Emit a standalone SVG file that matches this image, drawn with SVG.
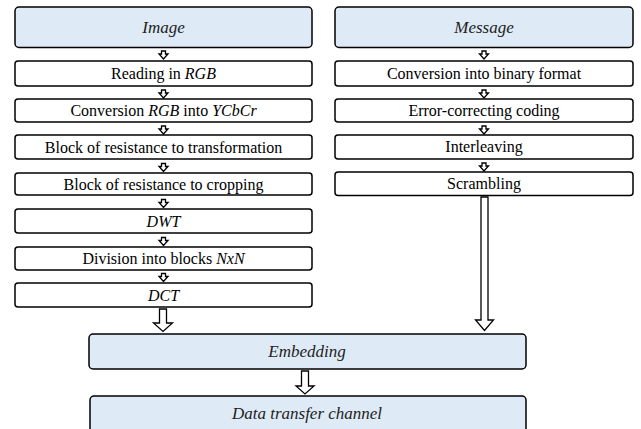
<svg xmlns="http://www.w3.org/2000/svg" width="641" height="429" viewBox="0 0 641 429">
<defs>
<polygon id="sa" points="-2,0 2,0 2,3 4.5,3 0,8 -4.5,3 -2,3" fill="#fff" stroke="#000" stroke-width="1.3"/>
</defs>
<g id="image"><rect fill="#deebf7" stroke="#000" stroke-width="1.5" x="15" y="7" width="297" height="40.5" rx="4"/><text x="163.5" y="33" font-family="Times New Roman, Liberation Serif, serif" font-size="17" font-style="italic" fill="#222" text-anchor="middle">Image</text></g>
<g id="reading"><rect fill="#fff" stroke="#000" stroke-width="1.5" x="15" y="61" width="297" height="25" rx="3"/><text x="163.5" y="79" font-family="Times New Roman, Liberation Serif, serif" font-size="16" text-anchor="middle">Reading in <tspan font-style="italic">RGB</tspan></text></g>
<g id="convycbcr"><rect fill="#fff" stroke="#000" stroke-width="1.5" x="15" y="99" width="297" height="23" rx="3"/><text x="163.5" y="116" font-family="Times New Roman, Liberation Serif, serif" font-size="16" text-anchor="middle">Conversion <tspan font-style="italic">RGB</tspan> into <tspan font-style="italic">YCbCr</tspan></text></g>
<g id="transform"><rect fill="#fff" stroke="#000" stroke-width="1.5" x="15" y="135" width="297" height="24" rx="3"/><text x="163.5" y="153" font-family="Times New Roman, Liberation Serif, serif" font-size="16" text-anchor="middle">Block of resistance to transformation</text></g>
<g id="cropping"><rect fill="#fff" stroke="#000" stroke-width="1.5" x="15" y="173" width="297" height="22" rx="3"/><text x="163.5" y="190" font-family="Times New Roman, Liberation Serif, serif" font-size="16" text-anchor="middle">Block of resistance to cropping</text></g>
<g id="dwt"><rect fill="#fff" stroke="#000" stroke-width="1.5" x="15" y="209" width="297" height="24" rx="3"/><text x="163.5" y="227" font-family="Times New Roman, Liberation Serif, serif" font-size="16" font-style="italic" text-anchor="middle">DWT</text></g>
<g id="division"><rect fill="#fff" stroke="#000" stroke-width="1.5" x="15" y="247" width="297" height="23" rx="3"/><text x="163.5" y="264" font-family="Times New Roman, Liberation Serif, serif" font-size="16" text-anchor="middle">Division into blocks <tspan font-style="italic">NxN</tspan></text></g>
<g id="dct"><rect fill="#fff" stroke="#000" stroke-width="1.5" x="15" y="283" width="297" height="24" rx="3"/><text x="163.5" y="301" font-family="Times New Roman, Liberation Serif, serif" font-size="16" font-style="italic" text-anchor="middle">DCT</text></g>
<g id="message"><rect fill="#deebf7" stroke="#000" stroke-width="1.5" x="335" y="7" width="298" height="40.5" rx="4"/><text x="484" y="33" font-family="Times New Roman, Liberation Serif, serif" font-size="17" font-style="italic" fill="#222" text-anchor="middle">Message</text></g>
<g id="binary"><rect fill="#fff" stroke="#000" stroke-width="1.5" x="335" y="61" width="298" height="25" rx="3"/><text x="484" y="79" font-family="Times New Roman, Liberation Serif, serif" font-size="16" text-anchor="middle">Conversion into binary format</text></g>
<g id="ecc"><rect fill="#fff" stroke="#000" stroke-width="1.5" x="335" y="99" width="298" height="23" rx="3"/><text x="484" y="116" font-family="Times New Roman, Liberation Serif, serif" font-size="16" text-anchor="middle">Error-correcting coding</text></g>
<g id="interleaving"><rect fill="#fff" stroke="#000" stroke-width="1.5" x="335" y="135" width="298" height="24" rx="3"/><text x="484" y="152" font-family="Times New Roman, Liberation Serif, serif" font-size="16" text-anchor="middle">Interleaving</text></g>
<g id="scrambling"><rect fill="#fff" stroke="#000" stroke-width="1.5" x="335" y="172" width="298" height="23.5" rx="3"/><text x="484" y="189" font-family="Times New Roman, Liberation Serif, serif" font-size="16" text-anchor="middle">Scrambling</text></g>
<g id="embedding"><rect fill="#deebf7" stroke="#000" stroke-width="1.5" x="89" y="334" width="437" height="35" rx="4"/><text x="307" y="357" font-family="Times New Roman, Liberation Serif, serif" font-size="17" font-style="italic" fill="#222" text-anchor="middle">Embedding</text></g>
<g id="channel"><rect fill="#deebf7" stroke="#000" stroke-width="1.5" x="90" y="396" width="436" height="40" rx="4"/><text x="307" y="419" font-family="Times New Roman, Liberation Serif, serif" font-size="17" font-style="italic" fill="#222" text-anchor="middle">Data transfer channel</text></g>
<g id="connectors" fill="#fff" stroke="#000" stroke-width="1.3">
<use href="#sa" x="163.5" y="51"/>
<use href="#sa" x="163.5" y="90"/>
<use href="#sa" x="163.5" y="126"/>
<use href="#sa" x="163.5" y="163.5"/>
<use href="#sa" x="163.5" y="199.5"/>
<use href="#sa" x="163.5" y="237.5"/>
<use href="#sa" x="163.5" y="273.5"/>
<use href="#sa" x="484" y="51"/>
<use href="#sa" x="484" y="90"/>
<use href="#sa" x="484" y="126"/>
<use href="#sa" x="484" y="163"/>
<polygon points="159.5,309 166.5,309 166.5,323 172.5,323 163,331.5 153.5,323 159.5,323"/>
<polygon points="481,197 488,197 488,320 493.5,320 484.5,330.5 475.5,320 481,320"/>
<polygon points="301.5,371 308.5,371 308.5,386 314,386 305,394 296,386 301.5,386"/>
</g>
</svg>
